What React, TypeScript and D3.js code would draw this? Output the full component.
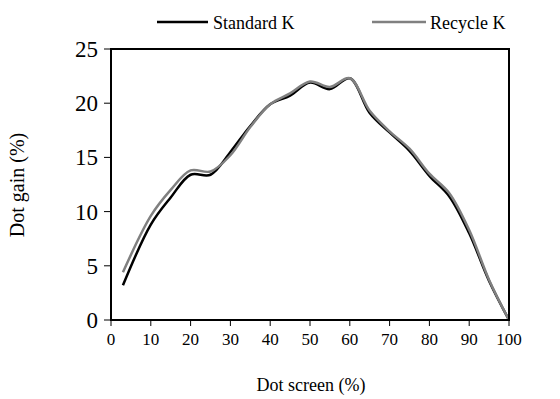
import * as d3 from "d3";

const screen = [3, 10, 15, 20, 25, 30, 35, 40, 45, 50, 55, 60, 65, 70, 75, 80, 85, 90, 95, 100];
const standardK = [3.2, 8.8, 11.3, 13.4, 13.4, 15.5, 17.9, 19.9, 20.7, 21.9, 21.3, 22.3, 19.1, 17.3, 15.6, 13.3, 11.4, 8.0, 3.6, 0];
const recycleK = [4.4, 9.6, 12.0, 13.8, 13.7, 15.2, 17.8, 19.9, 20.9, 22.0, 21.5, 22.3, 19.3, 17.4, 15.8, 13.5, 11.7, 8.3, 3.7, 0];
const xTicks = [0, 10, 20, 30, 40, 50, 60, 70, 80, 90, 100];
const yTicks = [0, 5, 10, 15, 20, 25];

const series = [
  { name: "Standard K", values: standardK, color: "#000000" },
  { name: "Recycle K", values: recycleK, color: "#808080" },
];

const FONT = "'Times New Roman', Times, 'Liberation Serif', serif";

export default function App() {
  const left = 111;
  const right = 509;
  const top = 49;
  const bottom = 320;

  const x = d3.scaleLinear().domain([0, 100]).range([left, right]);
  const y = d3.scaleLinear().domain([0, 25]).range([bottom, top]);

  const line = (vals: number[]) =>
    d3
      .line<number>()
      .x((_, i) => x(screen[i]))
      .y((d) => y(d))
      .curve(d3.curveCatmullRom.alpha(0.5))(vals) || "";

  return (
    <svg
      width={560}
      height={399}
      style={{ position: "absolute", left: 0, top: 0, background: "#fff" }}
    >
      <g style={{ fontFamily: FONT }}>
        {/* legend */}
        <line x1={157} x2={208} y1={22} y2={22} stroke="#000" strokeWidth={2.5} />
        <text x={213} y={29} fontSize={18}>Standard K</text>
        <line x1={372} x2={426} y1={22} y2={22} stroke="#808080" strokeWidth={2.5} />
        <text x={430} y={29} fontSize={18}>Recycle K</text>

        {/* lines */}
        {series.map((s) => (
          <path key={s.name} d={line(s.values)} fill="none" stroke={s.color} strokeWidth={2.5} />
        ))}

        {/* frame */}
        <rect x={left} y={top} width={right - left} height={bottom - top} fill="none" stroke="#000" strokeWidth={2} />

        {/* y axis */}
        {yTicks.map((t) => (
          <g key={"y" + t}>
            <line x1={left - 7} x2={left} y1={y(t)} y2={y(t)} stroke="#000" strokeWidth={1} />
            <text x={left - 13} y={y(t)} dy="0.35em" textAnchor="end" fontSize={23}>
              {t}
            </text>
          </g>
        ))}

        {/* x axis */}
        {xTicks.map((t) => (
          <g key={"x" + t}>
            <line x1={x(t)} x2={x(t)} y1={bottom} y2={bottom + 6} stroke="#000" strokeWidth={1} />
            <text x={x(t)} y={bottom + 25} textAnchor="middle" fontSize={17}>
              {t}
            </text>
          </g>
        ))}

        <text x={311} y={391} textAnchor="middle" fontSize={18}>
          Dot screen (%)
        </text>
        <text transform="translate(24,185) rotate(-90)" textAnchor="middle" fontSize={20}>
          Dot gain (%)
        </text>
      </g>
    </svg>
  );
}
